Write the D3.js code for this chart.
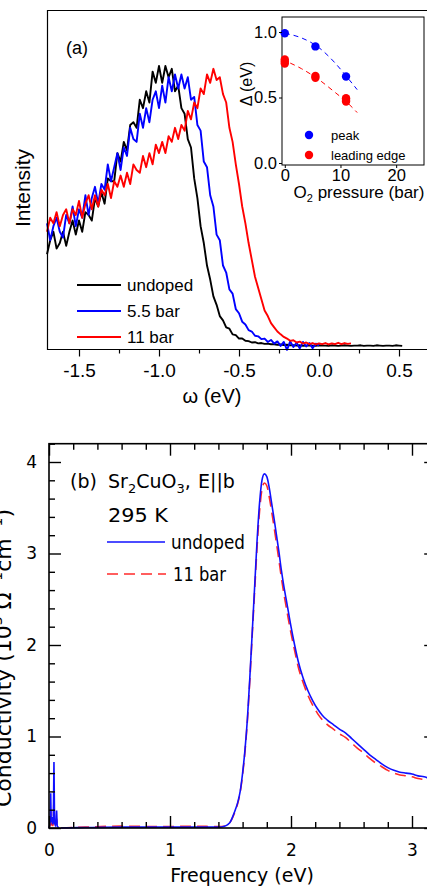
<!DOCTYPE html>
<html>
<head>
<meta charset="utf-8">
<script src="https://cdn.jsdelivr.net/npm/d3@7/dist/d3.min.js"></script>
<style>
  body { margin: 0; background: #fff; }
  svg { display: block; }
</style>
</head>
<body>
<svg id="fig" width="427" height="888"></svg>
<script>
// ---------------- Panel (a): photoemission spectra ----------------
const omegaStart = -1.70;
const omegaStep = 0.02;

const intensityUndoped = [
  0.33,0.38,0.41,0.35,0.37,0.41,0.36,0.41,0.45,0.40,
  0.45,0.41,0.48,0.47,0.45,0.53,0.50,0.55,0.51,0.60,
  0.59,0.59,0.69,0.66,0.73,0.70,0.79,0.80,0.78,0.88,
  0.85,0.91,0.87,0.98,0.94,1.00,0.94,1.00,0.96,0.99,
  0.91,0.93,0.85,0.83,0.74,0.71,0.60,0.53,0.43,0.37,
  0.29,0.24,0.18,0.15,0.11,0.095,0.07,0.065,0.045,0.042,
  0.030,0.030,0.022,0.021,0.016,0.017,0.013,0.014,0.011,0.012,
  0.010,0.010,0.008,0.009,0.007,0.008,0.006,
  0.006,0.005,0.006,0.004,0.005,0.006,0.005,0.004,0.006,0.005,
  0.005,0.004,0.006,0.005,0.004,0.005,0.006,0.005,0.004,0.005,
  0.005,0.006,0.004,0.005,0.005,0.004,0.006,0.005,0.004,0.005,
  0.005,0.004,0.006,0.005,0.004
];

const intensity55bar = [
  0.44,0.38,0.43,0.46,0.41,0.39,0.47,0.44,0.50,0.43,
  0.49,0.46,0.54,0.47,0.53,0.57,0.51,0.58,0.56,0.65,
  0.59,0.64,0.69,0.63,0.71,0.68,0.78,0.74,0.73,0.83,
  0.78,0.85,0.80,0.88,0.91,0.85,0.93,0.87,0.96,0.91,
  0.97,0.92,0.97,0.92,0.96,0.88,0.89,0.79,0.77,0.66,
  0.64,0.54,0.50,0.40,0.38,0.29,0.265,0.205,0.19,0.135,
  0.12,0.09,0.08,0.06,0.055,0.04,0.038,0.028,0.030,0.018,
  0.025,0.012,0.020,0.004,0.018,-0.010,0.020,0.000,0.015,-0.005,
  0.018,0.002,0.014,-0.004,0.012,0.005
];

const intensity11bar = [
  0.41,0.46,0.44,0.48,0.43,0.47,0.49,0.44,0.49,0.47,
  0.52,0.46,0.51,0.54,0.49,0.54,0.50,0.56,0.54,0.58,
  0.53,0.59,0.57,0.61,0.57,0.62,0.58,0.65,0.63,0.62,
  0.68,0.64,0.69,0.65,0.72,0.69,0.73,0.69,0.75,0.73,
  0.78,0.74,0.79,0.77,0.84,0.81,0.87,0.85,0.92,0.90,
  0.97,0.94,0.99,0.95,0.96,0.90,0.87,0.78,0.73,0.65,
  0.58,0.50,0.44,0.37,0.31,0.25,0.21,0.17,0.13,0.11,
  0.085,0.070,0.055,0.045,0.036,0.030,0.022,0.024,0.016,0.019,
  0.012,0.016,0.010,0.014,0.009,0.013,0.010,0.014,0.009,0.013,
  0.010,0.015,0.010,0.014,0.011,0.013
];

const spectraLabels = ["undoped", "5.5 bar", "11 bar"];
const spectraColors = ["#000000", "#0000ff", "#ff0000"];
const omegaMajorTicks = [-1.5, -1.0, -0.5, 0.0, 0.5];
const omegaMinorTicks = [-1.25, -0.75, -0.25, 0.25];

// inset: gap versus O2 pressure
const peakPressure = [0, 5.5, 11];
const peakGap = [0.99, 0.89, 0.66];
const edgePressure = [0, 0, 0, 5.5, 5.5, 11, 11, 11];
const edgeGap = [0.79, 0.775, 0.76, 0.665, 0.65, 0.495, 0.48, 0.47];
const peakFitPressure = [0, 3, 6, 9, 11, 13];
const peakFitGap = [0.99, 0.955, 0.885, 0.765, 0.665, 0.56];
const edgeFitPressure = [-0.5, 3, 6, 9, 11, 13];
const edgeFitGap = [0.79, 0.72, 0.64, 0.54, 0.47, 0.385];
const insetGapTicks = [0.0, 0.5, 1.0];
const insetPressureTicks = [0, 10, 20];

// ---------------- Panel (b): optical conductivity ----------------
const phononFreq    = [0.000,0.006,0.010,0.014,0.018,0.024,0.030,0.036,0.041,0.046,0.052,0.058,0.063,0.068,0.074,0.080];
const phononUndoped = [0.00,0.03,0.10,0.38,0.06,0.12,0.04,0.09,0.72,0.05,0.03,0.06,0.19,0.02,0.01,0.00];
const phonon11bar   = [0.00,0.02,0.05,0.20,0.03,0.06,0.02,0.05,0.35,0.03,0.02,0.04,0.10,0.01,0.01,0.00];

const freqGrid = [
  0.10,0.30,0.60,0.90,1.20,1.40,1.45,1.48,
  1.50,1.52,1.54,1.56,1.58,1.60,1.62,1.64,1.66,1.68,1.70,1.72,1.74,1.76,1.78,
  1.80,1.82,1.84,1.86,1.88,1.90,1.92,1.94,1.96,1.98,
  2.00,2.03,2.06,2.10,2.14,2.18,2.22,2.26,2.30,
  2.35,2.40,2.45,2.50,2.55,2.60,2.65,2.70,2.75,2.80,2.85,2.90,2.95,3.00,3.05,3.10,3.15,3.20
];
const sigmaUndoped = [
  0.00,0.005,0.01,0.01,0.01,0.01,0.02,0.04,
  0.07,0.13,0.20,0.28,0.40,0.60,0.86,1.20,1.65,2.15,2.65,3.15,3.55,3.80,3.87,
  3.84,3.72,3.55,3.38,3.20,3.02,2.82,2.65,2.50,2.35,
  2.20,2.00,1.82,1.64,1.50,1.39,1.30,1.23,1.18,
  1.13,1.08,1.04,0.98,0.92,0.86,0.80,0.75,0.70,0.66,0.63,0.61,0.60,0.59,0.57,0.56,0.54,0.53
];
const sigma11bar = [
  0.00,0.01,0.02,0.015,0.02,0.015,0.02,0.04,
  0.07,0.12,0.19,0.27,0.39,0.58,0.84,1.18,1.62,2.12,2.60,3.08,3.46,3.70,3.77,
  3.74,3.62,3.46,3.29,3.11,2.93,2.74,2.57,2.42,2.27,
  2.13,1.94,1.76,1.59,1.45,1.34,1.25,1.18,1.13,
  1.08,1.03,0.99,0.93,0.87,0.82,0.76,0.71,0.67,0.63,0.60,0.58,0.57,0.56,0.54,0.53,0.52,0.51
];
const freqMajorTicks = [0, 1, 2, 3];
const sigmaMajorTicks = [0, 1, 2, 3, 4];

// ------------------------------------------------------------------
const svg = d3.select("#fig");
const sansA = "'Liberation Sans', Arial, sans-serif";
const sansB = "'DejaVu Sans', 'Noto Sans', sans-serif";

// ===== Panel (a) =====
const xA = d3.scaleLinear().domain([-1.7, 0.7]).range([47, 431]);
const yA = d3.scaleLinear().domain([0, 1]).range([347, 66]);
const gA = svg.append("g");

const toPoints = arr => arr.map((v, i) => [+(omegaStart + i * omegaStep).toFixed(2), v]);
const lineA = d3.line().x(d => xA(d[0])).y(d => yA(d[1]));
[intensityUndoped, intensity55bar, intensity11bar].forEach((arr, k) => {
  gA.append("path")
    .attr("d", lineA(toPoints(arr)))
    .attr("fill", "none")
    .attr("stroke", spectraColors[k])
    .attr("stroke-width", 1.9)
    .attr("stroke-linejoin", "round");
});

// frame (left, top, bottom)
gA.append("path")
  .attr("d", `M431,10.5 H47.5 V349.5 H431`)
  .attr("fill", "none").attr("stroke", "#000").attr("stroke-width", 1.2);

const axA = gA.append("g").attr("transform", "translate(0,349.5)");
axA.call(d3.axisBottom(xA).tickValues(omegaMajorTicks).tickSize(7).tickPadding(7)
  .tickFormat(d => d3.format(".1f")(d).replace("−", "-")))
  .call(g => g.select(".domain").remove());
axA.selectAll("text").attr("font-family", sansA).attr("font-size", 19).attr("fill", "#000");
axA.selectAll("line").attr("stroke-width", 1.2);
const axAm = gA.append("g").attr("transform", "translate(0,349.5)");
axAm.call(d3.axisBottom(xA).tickValues(omegaMinorTicks).tickSize(4).tickFormat(""))
  .call(g => g.select(".domain").remove());
axAm.selectAll("line").attr("stroke-width", 1.2);

gA.append("text").attr("x", 212).attr("y", 403).attr("text-anchor", "middle")
  .attr("font-family", sansA).attr("font-size", 20).text("ω (eV)");
gA.append("text").attr("transform", "translate(30,188) rotate(-90)").attr("text-anchor", "middle")
  .attr("font-family", sansA).attr("font-size", 21).text("Intensity");
gA.append("text").attr("x", 66).attr("y", 54)
  .attr("font-family", sansA).attr("font-size", 18).text("(a)");

// legend
const legA = gA.append("g");
spectraLabels.forEach((lab, k) => {
  const y = 285 + k * 26;
  legA.append("line").attr("x1", 77).attr("x2", 121).attr("y1", y).attr("y2", y)
    .attr("stroke", spectraColors[k]).attr("stroke-width", 1.8);
  legA.append("text").attr("x", 127).attr("y", y + 6)
    .attr("font-family", sansA).attr("font-size", 17).text(lab);
});

// ===== Inset =====
const xI = d3.scaleLinear().domain([-0.5, 25]).range([282, 424]);
const yI = d3.scaleLinear().domain([0, 1]).range([163, 32]);
const gI = svg.append("g");
gI.append("rect").attr("x", 282).attr("y", 17).attr("width", 142).attr("height", 148)
  .attr("fill", "#fff").attr("stroke", "#000").attr("stroke-width", 1);

const fitLine = d3.line().x(d => xI(d[0])).y(d => yI(d[1])).curve(d3.curveMonotoneX);
gI.append("path").attr("d", fitLine(peakFitPressure.map((p, i) => [p, peakFitGap[i]])))
  .attr("fill", "none").attr("stroke", "#0000ff").attr("stroke-width", 1).attr("stroke-dasharray", "5,4");
gI.append("path").attr("d", fitLine(edgeFitPressure.map((p, i) => [p, edgeFitGap[i]])))
  .attr("fill", "none").attr("stroke", "#ff0000").attr("stroke-width", 1).attr("stroke-dasharray", "5,4");

gI.selectAll("circle.pk").data(peakPressure).join("circle").attr("class", "pk")
  .attr("cx", d => xI(d)).attr("cy", (d, i) => yI(peakGap[i])).attr("r", 4.2).attr("fill", "#0000ff");
gI.selectAll("circle.ed").data(edgePressure).join("circle").attr("class", "ed")
  .attr("cx", d => xI(d)).attr("cy", (d, i) => yI(edgeGap[i])).attr("r", 4.2).attr("fill", "#ff0000");

const axIy = gI.append("g").attr("transform", "translate(282,0)");
axIy.call(d3.axisLeft(yI).tickValues(insetGapTicks).tickSize(3).tickPadding(2).tickFormat(d3.format(".1f")))
  .call(g => g.select(".domain").remove());
axIy.selectAll("text").attr("font-family", sansA).attr("font-size", 16.5).attr("fill", "#000");
const axIx = gI.append("g").attr("transform", "translate(0,165)");
axIx.call(d3.axisBottom(xI).tickValues(insetPressureTicks).tickSize(3).tickPadding(1))
  .call(g => g.select(".domain").remove());
axIx.selectAll("text").attr("font-family", sansA).attr("font-size", 16.5).attr("fill", "#000");

const tI = gI.append("text").attr("x", 359).attr("y", 198).attr("text-anchor", "middle")
  .attr("font-family", sansA).attr("font-size", 17);
tI.append("tspan").text("O");
tI.append("tspan").attr("font-size", 11).attr("dy", 4).text("2");
tI.append("tspan").attr("dy", -4).text(" pressure (bar)");
gI.append("text").attr("transform", "translate(252,84) rotate(-90)").attr("text-anchor", "middle")
  .attr("font-family", sansA).attr("font-size", 16).text("Δ (eV)");

[["peak", "#0000ff"], ["leading edge", "#ff0000"]].forEach(([lab, col], k) => {
  const y = 135 + k * 20;
  gI.append("circle").attr("cx", 309).attr("cy", y).attr("r", 4.2).attr("fill", col);
  gI.append("text").attr("x", 331).attr("y", y + 5).attr("font-family", sansA)
    .attr("font-size", 13).text(lab);
});

// ===== Panel (b) =====
const xB = d3.scaleLinear().domain([0, 3.2]).range([49, 436.2]);
const yB = d3.scaleLinear().domain([0, 4.2]).range([828, 443.7]);
const gB = svg.append("g");

const lineLin = d3.line().x(d => xB(d[0])).y(d => yB(d[1]));
const lineSmooth = d3.line().x(d => xB(d[0])).y(d => yB(d[1])).curve(d3.curveMonotoneX);

function drawSeries(phon, main, color, dash) {
  const p1 = gB.append("path").attr("d", lineLin(phononFreq.map((f, i) => [f, phon[i]])));
  const p2 = gB.append("path").attr("d", lineSmooth(freqGrid.map((f, i) => [f, main[i]])));
  [p1, p2].forEach(p => p.attr("fill", "none").attr("stroke", color).attr("stroke-width", 1.6)
    .attr("stroke-dasharray", dash));
}
drawSeries(phonon11bar, sigma11bar, "#ff2a2a", "11,6");
drawSeries(phononUndoped, sigmaUndoped, "#1010ff", null);

// frame
gB.append("rect").attr("x", 49).attr("y", 443.7).attr("width", 387).attr("height", 384.3)
  .attr("fill", "none").attr("stroke", "#000").attr("stroke-width", 1.6);

const freqMinor = d3.range(0, 3.21, 0.2).filter(v => Math.abs(v - Math.round(v)) > 0.01);
const sigmaMinor = d3.range(0, 4.21, 0.2).filter(v => Math.abs(v - Math.round(v)) > 0.01);

function ticksB(axisGen, transform, values, size, labels) {
  const g = gB.append("g").attr("transform", transform);
  g.call(axisGen.tickValues(values).tickSize(size).tickPadding(8)
    .tickFormat(labels ? d3.format("d") : ""))
    .call(s => s.select(".domain").remove());
  g.selectAll("line").attr("stroke-width", 1.4);
  g.selectAll("text").attr("font-family", sansB).attr("font-size", 17).attr("fill", "#000");
  return g;
}
// bottom & top
ticksB(d3.axisBottom(xB), "translate(0,828)", freqMajorTicks, -12, true)
  .selectAll("text").attr("dy", "1.2em");
ticksB(d3.axisBottom(xB), "translate(0,828)", freqMinor, -6, false);
ticksB(d3.axisTop(xB), "translate(0,443.7)", freqMajorTicks, -12, false);
ticksB(d3.axisTop(xB), "translate(0,443.7)", freqMinor, -6, false);
// left & right
const leftMaj = ticksB(d3.axisLeft(yB), "translate(49,0)", sigmaMajorTicks, -12, true);
leftMaj.selectAll("text").attr("x", -12);
ticksB(d3.axisLeft(yB), "translate(49,0)", sigmaMinor, -6, false);
ticksB(d3.axisRight(yB), "translate(436.2,0)", sigmaMajorTicks, -12, false);
ticksB(d3.axisRight(yB), "translate(436.2,0)", sigmaMinor, -6, false);

gB.append("text").attr("x", 242).attr("y", 882).attr("text-anchor", "middle")
  .attr("font-family", sansB).attr("font-size", 19).text("Frequency (eV)");

const yl = gB.append("text").attr("transform", "translate(11,658) rotate(-90)")
  .attr("text-anchor", "middle").attr("font-family", sansB).attr("font-size", 22);
yl.append("tspan").text("Conductivity (10");
yl.append("tspan").attr("font-size", 14).attr("dy", -9).text("3");
yl.append("tspan").attr("dy", 9).text(" Ω");
yl.append("tspan").attr("font-size", 14).attr("dy", -9).text("−1");
yl.append("tspan").attr("dy", 9).text("cm");
yl.append("tspan").attr("font-size", 14).attr("dy", -9).text("−1");
yl.append("tspan").attr("dy", 9).text(")");

// annotation
const fs = 19;
gB.append("text").attr("x", 70).attr("y", 488).attr("font-family", sansB).attr("font-size", fs).text("(b)");
const t1 = gB.append("text").attr("x", 108).attr("y", 488).attr("font-family", sansB).attr("font-size", fs);
t1.append("tspan").text("Sr");
t1.append("tspan").attr("font-size", 13).attr("dy", 5).text("2");
t1.append("tspan").attr("dy", -5).text("CuO");
t1.append("tspan").attr("font-size", 13).attr("dy", 5).text("3");
t1.append("tspan").attr("dy", -5).text(",");
gB.append("text").attr("x", 198).attr("y", 488).attr("font-family", sansB).attr("font-size", fs).text("E||b");

function sized(x, y, str, width, size) {
  return gB.append("text").attr("x", x).attr("y", y).attr("font-family", sansB)
    .attr("font-size", size).attr("textLength", width)
    .attr("lengthAdjust", "spacingAndGlyphs").text(str);
}
sized(108, 522, "295 K", 60, 20);
gB.append("line").attr("x1", 107).attr("x2", 165).attr("y1", 542).attr("y2", 542)
  .attr("stroke", "#1010ff").attr("stroke-width", 1.6);
sized(171, 549, "undoped", 74, 19);
gB.append("line").attr("x1", 107).attr("x2", 166).attr("y1", 574).attr("y2", 574)
  .attr("stroke", "#ff2a2a").attr("stroke-width", 1.6).attr("stroke-dasharray", "11,6");
sized(173, 581, "11 bar", 53, 19);
</script>
</body>
</html>
